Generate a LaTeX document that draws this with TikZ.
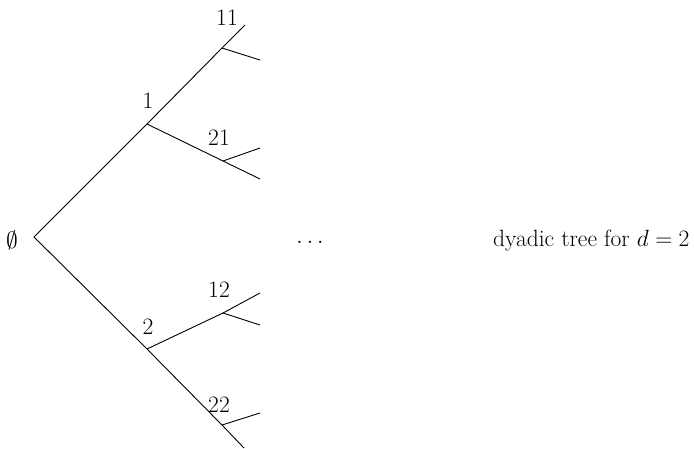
\documentclass[tikz,border=0pt]{standalone}
\usepackage{fix-cm}
\begin{document}
\begin{tikzpicture}[x=1pt,y=-1pt,line width=0.9pt,
  lbl/.style={inner sep=0pt,font=\fontsize{23.5}{27}\selectfont}]
\useasboundingbox (0,0) rectangle (694,448);
\coordinate (r) at (34,237);
\coordinate (n1) at (147,124);
\coordinate (n2) at (147,349);
\coordinate (n11) at (222,48);
\coordinate (n21) at (223,161);
\coordinate (n12) at (223,313);
\coordinate (n22) at (222,425);
\coordinate (t1) at (245,25);
\coordinate (t11) at (260,60);
\coordinate (t21a) at (260,148);
\coordinate (t21b) at (260,179);
\coordinate (t12a) at (260,293);
\coordinate (t12b) at (260,325);
\coordinate (t22a) at (260,413);
\coordinate (t22b) at (244,448);
\draw (r) -- (n1) -- (n11) -- (t1);
\draw (n11) -- (t11);
\draw (n1) -- (n21) -- (t21b);
\draw (n21) -- (t21a);
\draw (r) -- (n2) -- (n22) -- (t22b);
\draw (n22) -- (t22a);
\draw (n2) -- (n12) -- (t12a);
\draw (n12) -- (t12b);
\node[lbl] (l0) at (12,240) {$\emptyset$};
\node[lbl] (l1) at (148,101) {1};
\node[lbl] (l2) at (148,327) {2};
\node[lbl] (l11) at (227,18) {11};
\node[lbl] (l21) at (219,138) {21};
\node[lbl] (l12) at (219,290) {12};
\node[lbl] (l22) at (219,405) {22};
\node[lbl] (dots) at (310,242) {$\dots$};
\node[lbl,anchor=east] (cap) at (690,241) {dyadic tree for $d=2$};
\end{tikzpicture}
\end{document}
